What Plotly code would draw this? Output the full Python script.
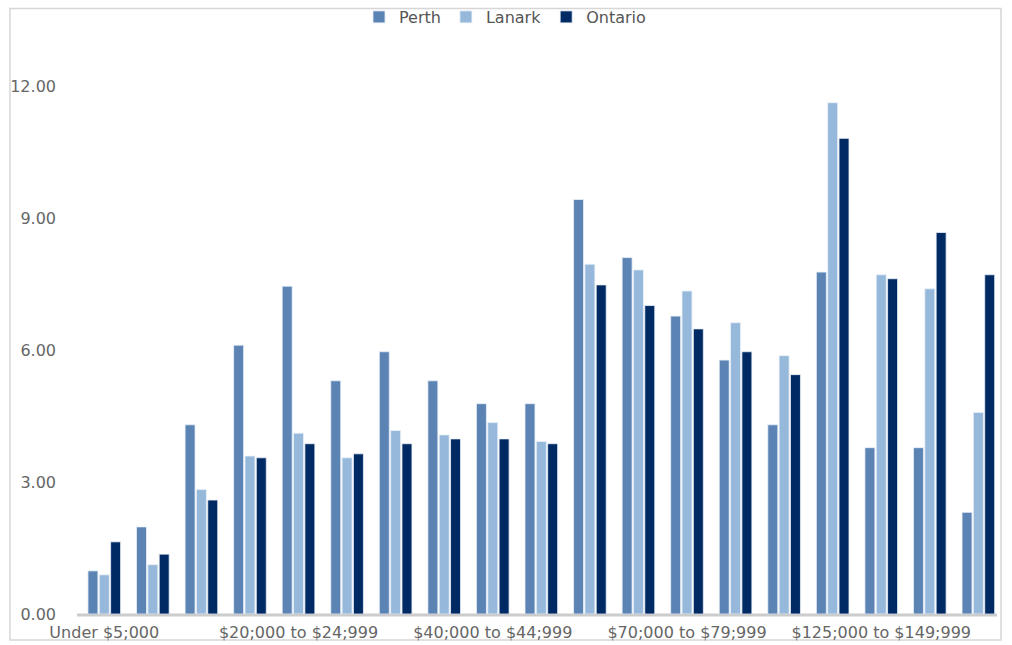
import plotly.graph_objects as go

categories = [
    "Under $5;000", "$5;000 to $9;999", "$10;000 to $14;999", "$15;000 to $19;999",
    "$20;000 to $24;999", "$25;000 to $29;999", "$30;000 to $34;999", "$35;000 to $39;999",
    "$40;000 to $44;999", "$45;000 to $49;999", "$50;000 to $59;999", "$60;000 to $69;999",
    "$70;000 to $79;999", "$80;000 to $89;999", "$90;000 to $99;999", "$100;000 to $124;999",
    "$125;000 to $149;999", "$150;000 to $199;999", "$200;000 and over",
]
perth = [0.98, 1.98, 4.30, 6.11, 7.45, 5.30, 5.96, 5.30, 4.78, 4.78,
         9.42, 8.10, 6.77, 5.77, 4.30, 7.77, 3.78, 3.78, 2.31]
lanark = [0.89, 1.12, 2.83, 3.59, 4.11, 3.55, 4.17, 4.07, 4.35, 3.92,
          7.95, 7.82, 7.34, 6.62, 5.87, 11.62, 7.71, 7.39, 4.58]
ontario = [1.64, 1.36, 2.59, 3.55, 3.87, 3.64, 3.87, 3.98, 3.98, 3.87,
           7.48, 7.01, 6.48, 5.96, 5.44, 10.81, 7.62, 8.67, 7.71]
tick_labels = categories[0::4]

series = [("Perth", perth, "#5B84B5"), ("Lanark", lanark, "#95B8DB"), ("Ontario", ontario, "#002A64")]

fig = go.Figure()
for name, vals, col in series:
    fig.add_trace(go.Bar(x=categories, y=vals, name=name,
                         marker=dict(color=col, line=dict(color="#EAF0F8", width=0.8))))

W, H = 1012, 645
L, R, T, B = 80, 0, 14, 31
pw, ph = W - L - R, H - T - B
ytop = ph / 44.0
cat_w = 48.56
xend = pw / cat_w - 0.5

def px(x):
    return (x - L) / pw

def py(y):
    return (H - B - y) / ph

fig.update_layout(
    width=W, height=H,
    margin=dict(l=L, r=R, t=T, b=B),
    paper_bgcolor="white", plot_bgcolor="white",
    barmode="group", bargap=0.30, bargroupgap=0.12,
    font=dict(family="DejaVu Sans", size=16, color="#666666"),
    legend=dict(orientation="h", x=px(359), xanchor="left", y=py(0), yanchor="top",
                bgcolor="rgba(0,0,0,0)", font=dict(size=16, color="#555555"),
                itemwidth=30, traceorder="normal"),
    xaxis=dict(type="category", range=[-0.5, xend], tickmode="array",
               tickvals=tick_labels, ticktext=tick_labels,
               showgrid=False, showline=False, zeroline=False,
               ticks="", ticklabelstandoff=7, automargin=False,
               tickfont=dict(size=16, color="#666666")),
    yaxis=dict(range=[0, ytop], dtick=3, tick0=0, tickformat=".2f", showgrid=False,
               zeroline=False, showline=False, ticks="", ticklabelstandoff=23, automargin=False,
               tickfont=dict(size=16, color="#666666")),
    shapes=[
        dict(type="rect", xref="paper", yref="paper",
             x0=px(10), x1=px(1001), y0=py(640), y1=py(8.5),
             line=dict(color="#D6D6D6", width=1.5), layer="below"),
        dict(type="line", xref="paper", yref="paper",
             x0=px(77), x1=px(997), y0=py(615), y1=py(615),
             line=dict(color="#CCCCCC", width=3), layer="below"),
    ],
)

fig.write_html("out.html", config={"displayModeBar": False},
               post_script="document.body.style.margin='0';")
